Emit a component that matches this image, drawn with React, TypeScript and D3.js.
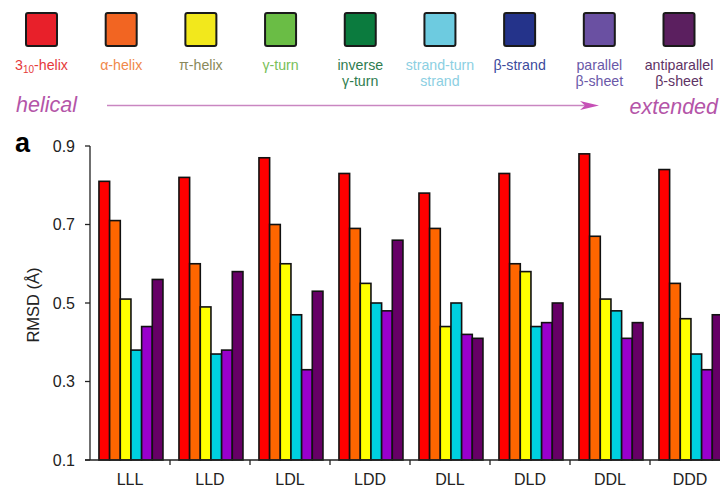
import React from "react";
import * as d3 from "d3";

// Tripeptide stereo-configurations along the x axis
const categories = ["LLL", "LLD", "LDL", "LDD", "DLL", "DLD", "DDL", "DDD"];

// Bar series (RMSD in Å), one array per secondary-structure reference
const seriesKeys = ["h310", "alpha", "pi", "strandTurn", "parallel", "antiparallel"];
const h310 = [0.81, 0.82, 0.87, 0.83, 0.78, 0.83, 0.88, 0.84];
const alpha = [0.71, 0.6, 0.7, 0.69, 0.69, 0.6, 0.67, 0.55];
const pi = [0.51, 0.49, 0.6, 0.55, 0.44, 0.58, 0.51, 0.46];
const strandTurn = [0.38, 0.37, 0.47, 0.5, 0.5, 0.44, 0.48, 0.37];
const parallel = [0.44, 0.38, 0.33, 0.48, 0.42, 0.45, 0.41, 0.33];
const antiparallel = [0.56, 0.58, 0.53, 0.66, 0.41, 0.5, 0.45, 0.47];
const seriesValues = [h310, alpha, pi, strandTurn, parallel, antiparallel];
const seriesColors = ["#ff0000", "#ff6600", "#ffff00", "#00d0e0", "#9900cc", "#660066"];

const yTicks = [0.1, 0.3, 0.5, 0.7, 0.9];

// Legend of secondary-structure types, from helical to extended
const legendLines = [
  ["3_10-helix"],
  ["α-helix"],
  ["π-helix"],
  ["γ-turn"],
  ["inverse", "γ-turn"],
  ["strand-turn", "strand"],
  ["β-strand"],
  ["parallel", "β-sheet"],
  ["antiparallel", "β-sheet"],
];
const legendFill = [
  "#e8202a", "#f26522", "#f2e81c", "#6abd45", "#0b7b3e",
  "#6dcbe0", "#24338a", "#6a50a2", "#5b1f5f",
];
const legendText = [
  "#e5393a", "#f0884a", "#8a8a5a", "#78c058", "#2f7d4f",
  "#8ccfe2", "#3c4a9c", "#6a58a8", "#5e3264",
];

const W = 720;
const H = 488;
const FONT = "Liberation Sans, Arial, Helvetica, sans-serif";

export default function App() {
  const x0 = d3.scaleBand<string>().domain(categories).range([90, 730]).padding(0);
  const x1 = d3
    .scaleBand<string>()
    .domain(seriesKeys)
    .range([0, x0.bandwidth()])
    .paddingInner(0)
    .paddingOuter(0.75)
    .align(0.56);
  const y = d3.scaleLinear().domain([0.1, 0.9]).range([460, 146]);

  const legendX = d3.scaleLinear().domain([0, 8]).range([41.5, 679]);

  const renderLabel = (line: string) => {
    if (line.startsWith("3_10")) {
      return (
        <>
          3
          <tspan fontSize={10} dy={3}>10</tspan>
          <tspan dy={-3}>-helix</tspan>
        </>
      );
    }
    return line;
  };

  const arrowY = 105.5;

  return (
    <svg
      width={W}
      height={H}
      viewBox={`0 0 ${W} ${H}`}
      style={{ position: "absolute", left: 0, top: 0, background: "#fff" }}
      fontFamily={FONT}
    >
      {/* legend swatches and names */}
      {legendLines.map((lines, i) => {
        const cx = legendX(i);
        return (
          <g key={i}>
            <rect
              x={cx - 15.5}
              y={13}
              width={31}
              height={33}
              rx={2}
              fill={legendFill[i]}
              stroke="#1a1a1a"
              strokeWidth={2}
            />
            {lines.map((line, j) => (
              <text
                key={j}
                x={cx}
                y={70 + j * 15.5}
                textAnchor="middle"
                fontSize={14.2}
                fill={legendText[i]}
              >
                {renderLabel(line)}
              </text>
            ))}
          </g>
        );
      })}

      {/* helical → extended arrow */}
      <text x={16} y={112} fontSize={21.5} fontStyle="italic" fill="#b455a8">
        helical
      </text>
      <line
        x1={107}
        y1={arrowY}
        x2={586}
        y2={arrowY}
        stroke="#c986c1"
        strokeWidth={1.6}
      />
      <path
        d={`M580,${arrowY - 4.5} L599,${arrowY} L580,${arrowY + 4.5} L585,${arrowY} Z`}
        fill="#c64fb6"
      />
      <text x={718} y={114} fontSize={21.5} fontStyle="italic" fill="#b455a8" textAnchor="end">
        extended
      </text>

      {/* panel letter */}
      <text x={15} y={152} fontSize={27} fontWeight="bold" fill="#000">
        a
      </text>

      {/* bars */}
      {categories.map((cat, ci) => (
        <g key={cat} transform={`translate(${x0(cat)},0)`}>
          {seriesKeys.map((key, si) => {
            const v = seriesValues[si][ci];
            return (
              <rect
                key={key}
                x={x1(key)}
                y={y(v)}
                width={x1.bandwidth()}
                height={y(0.1) - y(v)}
                fill={seriesColors[si]}
                stroke="#111"
                strokeWidth={1.6}
              />
            );
          })}
        </g>
      ))}

      {/* y axis */}
      <line x1={90} y1={y(0.9)} x2={90} y2={y(0.1)} stroke="#222" strokeWidth={1.3} />
      {yTicks.map((t) => (
        <g key={t}>
          <line x1={85} y1={y(t)} x2={90} y2={y(t)} stroke="#222" strokeWidth={1.3} />
          <text
            x={75}
            y={y(t)}
            dy="0.36em"
            textAnchor="end"
            fontSize={16}
            fill="#222"
          >
            {d3.format(".1f")(t)}
          </text>
        </g>
      ))}
      <text
        transform={`translate(39,${(y(0.9) + y(0.1)) / 2 + 2}) rotate(-90)`}
        textAnchor="middle"
        fontSize={16.5}
        fill="#222"
      >
        RMSD (Å)
      </text>

      {/* x axis */}
      <line x1={85} y1={460} x2={W} y2={460} stroke="#222" strokeWidth={1.3} />
      {categories.map((cat) => (
        <g key={cat}>
          {x0(cat)! > 90 && (
            <line x1={x0(cat)} y1={460} x2={x0(cat)} y2={465} stroke="#222" strokeWidth={1.3} />
          )}
          <text
            x={x0(cat)! + x0.bandwidth() / 2}
            y={485}
            textAnchor="middle"
            fontSize={16}
            fill="#222"
          >
            {cat}
          </text>
        </g>
      ))}
    </svg>
  );
}
